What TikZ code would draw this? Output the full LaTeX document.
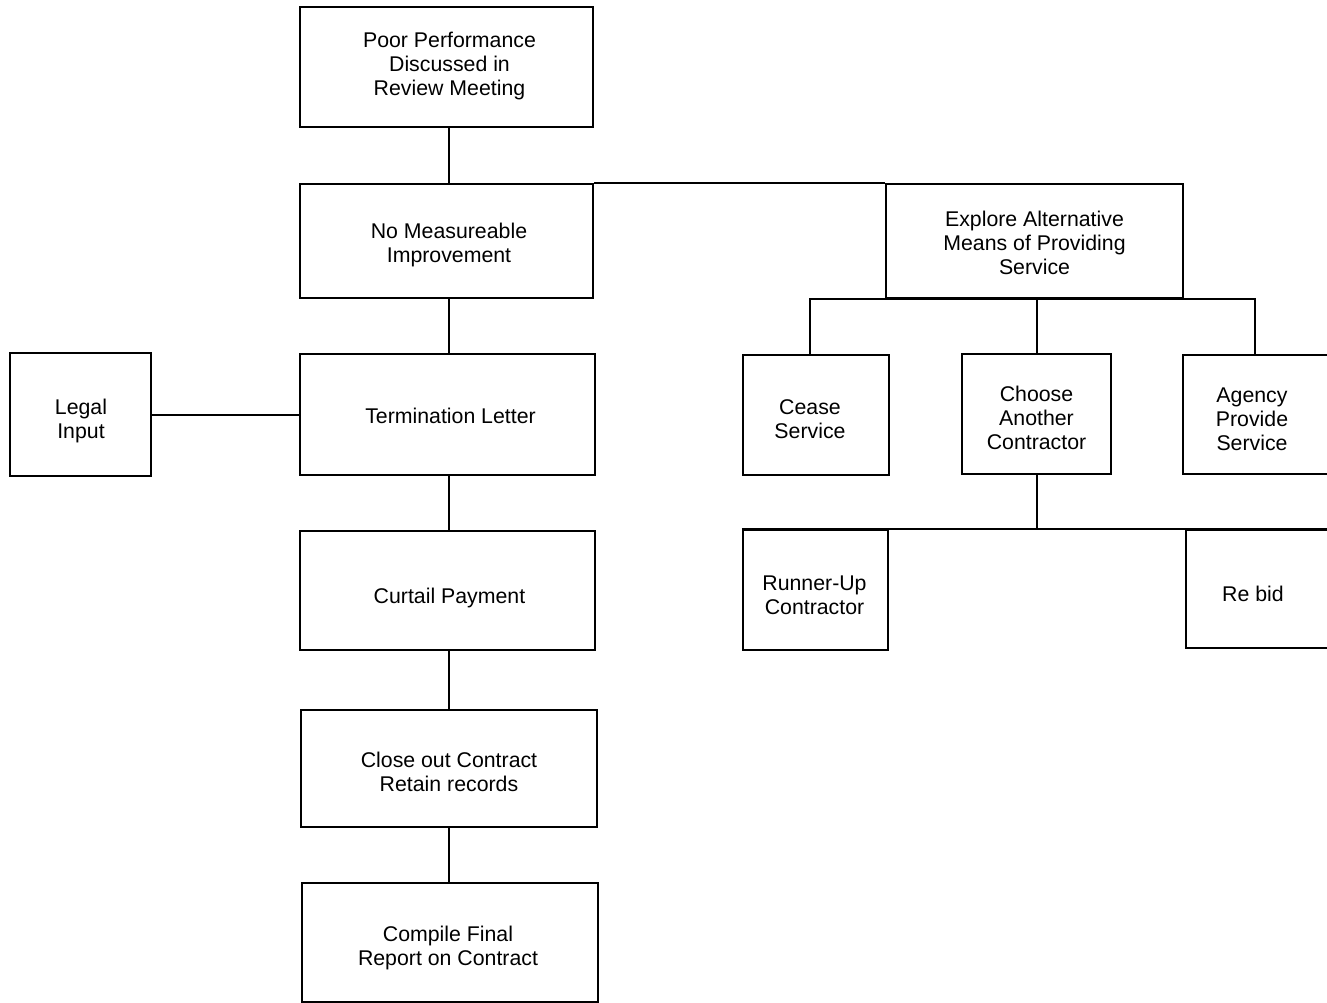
\documentclass[tikz,border=0pt]{standalone}
\usepackage{fontspec}
\setmainfont{Liberation Sans}
\begin{document}
\begin{tikzpicture}[x=1pt,y=-1pt,
  box/.style={draw, line width=2.2pt, inner sep=0pt},
  lbl/.style={inner sep=0pt, align=center, text depth=0pt,
              font=\fontsize{21.3}{24}\selectfont},
  link/.style={line width=2pt}]
\useasboundingbox (0,0) rectangle (1327,1003);
\clip (0,0) rectangle (1327,1003);

% main column: outlines
\node[box, minimum width=293, minimum height=120] (poor)    at (446.5,67)    {};
\node[box, minimum width=293, minimum height=114] (nomeas)  at (446.5,241)   {};
\node[box, minimum width=295, minimum height=121] (term)    at (447.5,414.5) {};
\node[box, minimum width=141, minimum height=123] (legal)   at (80.5,414.5)  {};
\node[box, minimum width=295, minimum height=119] (curtail) at (447.5,590.5) {};
\node[box, minimum width=296, minimum height=117] (close)   at (449,768.5)   {};
\node[box, minimum width=296, minimum height=119] (compile) at (450,942.5)   {};

% alternative branch: outlines
\node[box, minimum width=297, minimum height=114] (explore) at (1034.5,241)  {};
\node[box, minimum width=146, minimum height=120] (cease)   at (816,415)     {};
\node[box, minimum width=149, minimum height=120] (choose)  at (1036.5,414)  {};
\node[box, minimum width=170, minimum height=119, anchor=west] (agency) at (1182,414.5) {};
\node[box, minimum width=145, minimum height=120] (runner)  at (815.5,590)   {};
\node[box, minimum width=170, minimum height=118, anchor=west] (rebid) at (1185,589) {};

% box texts
\node[lbl] (poortxt)    at (449.5,64)    {Poor Performance\\Discussed in\\Review Meeting};
\node[lbl] (nomeastxt)  at (449,242.5)   {No Measureable\\Improvement};
\node[lbl] (termtxt)    at (450.5,415.5) {Termination Letter};
\node[lbl] (legaltxt)   at (81,419)      {Legal\\Input};
\node[lbl] (curtailtxt) at (449.5,595.5) {Curtail Payment};
\node[lbl] (closetxt)   at (449,771.5)   {Close out Contract\\Retain records};
\node[lbl] (compiletxt) at (448,945.5)   {Compile Final\\Report on Contract};
\node[lbl] (exploretxt) at (1034.5,242.5){Explore Alternative\\Means of Providing\\Service};
\node[lbl] (ceasetxt)   at (810,419)     {Cease\\Service};
\node[lbl] (choosetxt)  at (1036.5,418)  {Choose\\Another\\Contractor};
\node[lbl] (agencytxt)  at (1252,419)    {Agency\\Provide\\Service};
\node[lbl] (runnertxt)  at (814.5,595)   {Runner-Up\\Contractor};
\node[lbl] (rebidtxt)   at (1253,594)    {Re bid};

\coordinate (agencytop) at (1255,355);
\coordinate (ceasetop)  at (810,355);

% connectors
\draw[link] ([xshift=2.5pt]poor.south) -- ([xshift=2.5pt]poor.south |- nomeas.north);
\draw[link] (nomeas.north east) -- (explore.north west);
\draw[link] ([xshift=2.5pt]nomeas.south) -- ([xshift=2.5pt]nomeas.south |- term.north);
\draw[link] (legal.east) -- (legal.east -| term.west);
\draw[link] ([xshift=1.5pt]term.south) -- ([xshift=1.5pt]term.south |- curtail.north);
\draw[link] ([xshift=1.5pt]curtail.south) -- ([xshift=1.5pt]curtail.south |- close.north);
\draw[link] (close.south) -- (close.south |- compile.north);

\draw[link] (ceasetop) -- (ceasetop |- explore.south)
            -- (agencytop |- explore.south) -- (agencytop);
\draw[link] (choose.north) -- (choose.north |- explore.south);
\draw[link] (choose.south) -- (choose.south |- runner.north);
\draw[link] (runner.north west) -- (rebid.north east);
\end{tikzpicture}
\end{document}
